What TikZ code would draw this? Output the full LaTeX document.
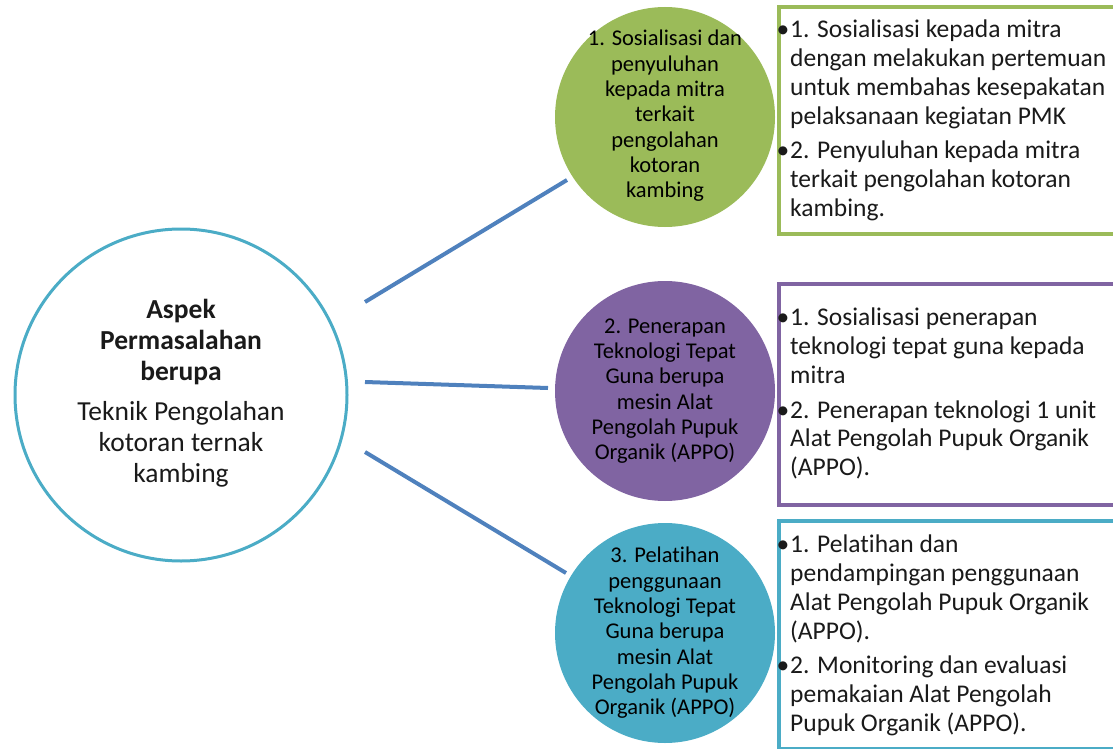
\documentclass[tikz,border=0pt]{standalone}
\usepackage{fontspec}
\setmainfont{Carlito}[Ligatures=NoCommon]
\definecolor{lgreen}{HTML}{9BBB59}
\definecolor{lpurple}{HTML}{8064A2}
\definecolor{lteal}{HTML}{4BACC6}
\definecolor{lblue}{HTML}{4F81BD}
\definecolor{txt}{HTML}{1A1A1A}
\newcommand{\bul}{\llap{\textbullet\hspace{1pt}}}
\begin{document}
\begin{tikzpicture}[x=1pt,y=-1pt,
  bigc/.style={circle, draw=lteal, line width=3pt, fill=white, minimum size=332pt, inner sep=0},
  smallc/.style={circle, fill=#1, minimum size=220pt, inner sep=0},
  boxs/.style={draw=#1, line width=4pt, fill=white, anchor=north west, inner sep=0},
  link/.style={draw=lblue, line width=4pt},
  ctext/.style={align=center, font=\fontsize{22.5}{25.3}\selectfont, text=black, inner sep=0},
  btext/.style={align=left, anchor=north west, font=\fontsize{25.5}{28.7}\selectfont, inner sep=0, text=txt},
  mtext/.style={align=center, font=\fontsize{27.5}{31}\selectfont, text=txt, inner sep=0}
]
\useasboundingbox (0,0) rectangle (1113,749);
% boxes
\node[boxs=lgreen, minimum width=360pt, minimum height=227pt] (gbox) at (777,5) {};
\node[boxs=lpurple, minimum width=360pt, minimum height=221pt] (pbox) at (777,282) {};
\node[boxs=lteal, minimum width=360pt, minimum height=228pt] (tbox) at (777,519) {};
% circles
\node[bigc] (big) at (181,395) {};
\node[smallc=lgreen] (gc) at (665,117) {};
\node[smallc=lpurple] (pc) at (665,391) {};
\node[smallc=lteal] (tc) at (665,633) {};
% connector ends
\coordinate (a1) at (365,302); \coordinate (b1) at (567,180);
\coordinate (a2) at (365,382); \coordinate (b2) at (548,388);
\coordinate (a3) at (365,452); \coordinate (b3) at (566,573);
\draw[link] (a1) -- (b1);
\draw[link] (a2) -- (b2);
\draw[link] (a3) -- (b3);
% main text
\node[mtext] (mt) at ([yshift=2pt]big.center) {\textbf{Aspek}\\\textbf{Permasalahan}\\\textbf{berupa}\\[9pt]Teknik Pengolahan\\kotoran ternak\\kambing};
% circle texts
\node[ctext] (gt) at ([yshift=1pt]gc.center) {1. Sosialisasi dan\\penyuluhan\\kepada mitra\\terkait\\pengolahan\\kotoran\\kambing};
\node[ctext] (pt) at (pc.center) {2. Penerapan\\Teknologi Tepat\\Guna berupa\\mesin Alat\\Pengolah Pupuk\\Organik (APPO)};
\node[ctext] (tt) at (tc.center) {3. Pelatihan\\penggunaan\\Teknologi Tepat\\Guna berupa\\mesin Alat\\Pengolah Pupuk\\Organik (APPO)};
% box texts
\node[btext] (gbt) at (790,20) {\bul 1. Sosialisasi kepada mitra\\dengan melakukan pertemuan\\untuk membahas kesepakatan\\pelaksanaan kegiatan PMK\\[6pt]\bul 2. Penyuluhan kepada mitra\\terkait pengolahan kotoran\\kambing.};
\node[btext] (pbt) at (790,308) {\bul 1. Sosialisasi penerapan\\teknologi tepat guna kepada\\mitra\\[6pt]\bul 2. Penerapan teknologi 1 unit\\Alat Pengolah Pupuk Organik\\(APPO).};
\node[btext] (tbt) at (790,535) {\bul 1. Pelatihan dan\\pendampingan penggunaan\\Alat Pengolah Pupuk Organik\\(APPO).\\[6pt]\bul 2. Monitoring dan evaluasi\\pemakaian Alat Pengolah\\Pupuk Organik (APPO).};
\end{tikzpicture}
\end{document}
